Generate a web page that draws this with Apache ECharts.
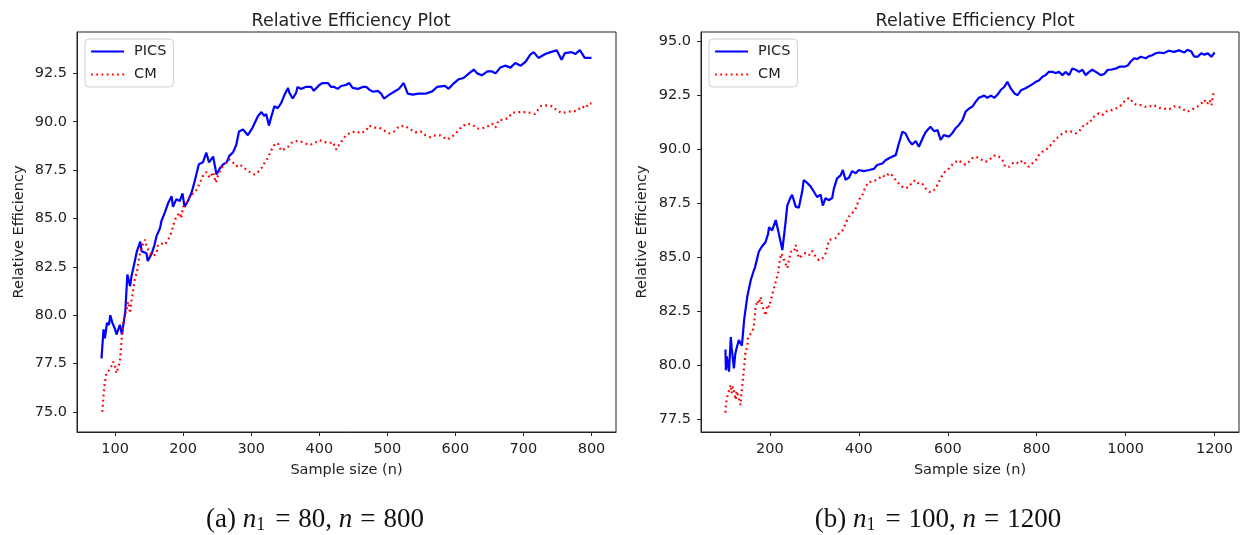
<!DOCTYPE html>
<html><head><meta charset="utf-8">
<script src="https://cdn.jsdelivr.net/npm/echarts@6/dist/echarts.min.js"></script>
<style>html,body{margin:0;padding:0;background:#fff}#c{width:1244px;height:535px}</style>
</head><body><div id="c"></div>
<script>
// ---------- DATA ----------
const titleText = "Relative Efficiency Plot";
const xName = "Sample size (n)";
const yName = "Relative Efficiency";
const seriesNames = ["PICS", "CM"];

// Panel (a): n1 = 80, n = 800
const xTicksA = [100, 200, 300, 400, 500, 600, 700, 800];
const yTicksA = [75.0, 77.5, 80.0, 82.5, 85.0, 87.5, 90.0, 92.5];
const picsA_n = [80,83,85,88,91,93,96,100,102,107,110,115,118,122,124,129,132,137,139,146,148,154,158,161,166,168,173,178,183,185,190,195,199,202,207,212,215,220,223,229,234,238,244,249,254,259,264,268,273,278,282,288,295,302,310,315,319,322,326,329,334,339,344,349,354,356,361,366,368,373,380,388,392,400,405,413,417,422,427,432,439,444,449,457,464,469,474,479,486,491,495,503,510,517,524,530,537,546,556,566,573,585,590,598,605,612,620,627,632,639,647,654,659,666,673,681,688,696,703,710,715,722,732,740,749,756,761,771,776,783,790,800];
const picsA_v = [77.76,79.27,78.8,79.6,79.5,80.0,79.6,79.27,79.0,79.5,79.0,80.2,82.1,81.5,82.0,82.8,83.3,83.8,83.3,83.2,82.8,83.2,83.65,84.1,84.5,84.86,85.3,85.8,86.15,85.6,86.0,85.9,86.3,85.6,85.9,86.3,86.67,87.36,87.8,87.9,88.4,87.9,88.2,87.27,87.6,87.8,87.9,88.25,88.4,88.8,89.5,89.6,89.3,89.7,90.3,90.5,90.3,90.4,89.8,90.2,90.8,90.7,90.97,91.4,91.75,91.5,91.2,91.5,91.8,91.7,91.8,91.8,91.6,91.9,92.0,92.0,91.8,91.8,91.7,91.85,91.9,92.0,91.75,91.7,91.8,91.8,91.65,91.55,91.6,91.45,91.2,91.4,91.55,91.7,92.0,91.45,91.4,91.45,91.45,91.57,91.8,91.85,91.7,92.0,92.2,92.26,92.5,92.7,92.5,92.4,92.6,92.6,92.5,92.8,92.9,92.8,93.04,92.9,93.1,93.47,93.6,93.3,93.5,93.6,93.7,93.2,93.55,93.6,93.5,93.7,93.3,93.3];
const cmA_n = [81,84,87,90,95,97,100,102,105,107,110,112,117,119,122,124,127,129,132,134,137,140,144,146,151,156,161,163,168,173,178,183,185,190,195,197,200,205,210,215,220,224,229,234,239,244,248,251,256,261,268,273,278,283,290,298,305,310,315,320,324,329,334,339,344,349,354,359,364,371,378,386,393,400,408,415,420,425,429,434,439,447,454,461,469,473,481,488,495,503,510,517,525,532,541,549,556,563,571,578,588,596,603,610,617,625,632,639,647,654,659,664,671,678,683,690,698,705,717,725,732,742,749,756,764,771,778,786,791,796,800];
const cmA_v = [75.0,76.3,77.0,77.1,77.4,77.6,77.35,77.0,77.35,77.6,78.9,79.7,80.3,80.7,80.1,80.7,81.4,81.9,82.2,82.7,83.3,83.6,83.9,83.6,83.2,83.05,83.2,83.65,83.7,83.65,83.9,84.3,84.6,85.1,85.3,85.0,85.6,85.8,86.15,86.3,86.5,86.8,87.2,87.4,87.1,87.4,86.85,87.2,87.6,87.8,88.05,87.9,87.7,87.8,87.6,87.4,87.27,87.4,87.6,87.9,88.1,88.5,88.8,88.9,88.5,88.6,88.7,88.9,89.0,89.0,88.9,88.8,88.9,89.05,88.95,88.9,88.95,88.56,88.8,89.05,89.3,89.45,89.5,89.4,89.55,89.8,89.7,89.7,89.55,89.4,89.5,89.75,89.8,89.65,89.45,89.5,89.3,89.2,89.3,89.3,89.08,89.25,89.5,89.77,89.9,89.85,89.65,89.65,89.75,89.9,89.7,90.1,90.1,90.2,90.45,90.5,90.5,90.5,90.4,90.8,90.85,90.8,90.6,90.45,90.5,90.55,90.55,90.8,90.7,90.94,90.95];

// Panel (b): n1 = 100, n = 1200
const xTicksB = [200, 400, 600, 800, 1000, 1200];
const yTicksB = [77.5, 80.0, 82.5, 85.0, 87.5, 90.0, 92.5, 95.0];
const picsB_n = [100,101,103,108,112,114,119,122,124,130,137,142,149,151,157,164,166,175,182,190,196,198,205,213,220,228,235,239,247,250,258,265,273,276,284,291,299,306,314,319,325,332,340,344,351,359,364,370,378,385,393,400,411,423,434,441,453,460,472,483,490,498,505,513,520,528,535,543,550,561,569,577,584,591,603,610,618,625,633,640,648,655,663,670,682,689,697,705,712,719,727,734,742,750,757,765,776,788,798,805,813,820,827,835,843,850,858,865,873,880,888,895,903,910,918,925,933,944,952,960,967,979,986,997,1005,1011,1019,1026,1034,1045,1053,1060,1067,1075,1086,1097,1109,1120,1132,1139,1147,1154,1162,1170,1177,1185,1193,1200];
const picsB_v = [80.73,79.77,80.4,79.7,81.3,80.8,79.85,80.5,80.7,81.16,80.9,82.1,83.17,83.2,83.95,84.4,84.5,85.26,85.5,85.7,86.1,86.4,86.25,86.73,86.1,85.34,86.6,87.4,87.8,87.9,87.35,87.3,88.1,88.58,88.45,88.3,88.04,87.8,87.9,87.4,87.75,87.65,87.75,88.2,88.66,88.8,89.05,88.6,88.7,89.0,88.9,89.05,89.0,89.05,89.1,89.28,89.35,89.5,89.64,89.74,90.28,90.83,90.75,90.4,90.23,90.4,90.13,90.5,90.8,91.06,90.85,90.9,90.44,90.67,90.6,90.75,91.0,91.14,91.36,91.75,91.9,91.98,92.22,92.4,92.5,92.4,92.5,92.4,92.55,92.76,92.9,93.14,92.82,92.6,92.52,92.75,92.85,93.0,93.14,93.2,93.38,93.45,93.6,93.6,93.55,93.6,93.45,93.6,93.45,93.76,93.7,93.6,93.7,93.45,93.6,93.7,93.6,93.45,93.5,93.7,93.7,93.76,93.84,93.84,93.9,94.07,94.23,94.2,94.3,94.23,94.33,94.37,94.46,94.5,94.47,94.58,94.53,94.6,94.5,94.62,94.56,94.32,94.3,94.46,94.4,94.46,94.3,94.5];
const cmB_n = [100,101,106,112,114,117,123,125,128,134,136,142,145,149,151,160,164,168,172,175,179,182,190,194,198,205,209,213,219,222,226,232,235,239,243,247,254,258,265,273,280,288,295,303,310,318,322,325,333,340,348,355,364,370,378,385,393,400,408,415,423,430,438,445,453,460,468,475,483,490,498,505,513,520,528,535,543,550,558,565,573,580,588,595,603,610,618,625,633,640,648,655,663,670,678,685,693,700,708,715,723,729,738,745,753,760,768,775,782,790,798,805,813,820,828,835,843,850,858,865,873,880,888,895,903,910,918,925,933,940,948,955,963,970,978,986,993,1000,1008,1011,1019,1026,1034,1045,1053,1060,1071,1079,1086,1094,1102,1109,1117,1124,1132,1139,1147,1154,1162,1170,1177,1183,1189,1193,1196,1199];
const cmB_v = [77.8,78.2,78.7,79.08,78.7,79.0,78.4,78.8,78.6,78.15,78.7,79.9,80.55,80.9,81.3,81.55,81.8,82.7,83.0,82.85,83.17,82.8,82.3,82.8,82.7,83.25,83.55,83.87,84.33,84.87,85.18,84.87,84.95,84.5,84.87,85.26,85.26,85.57,84.96,85.1,85.2,85.1,85.3,85.03,84.87,84.95,84.87,85.18,85.8,85.85,85.9,86.1,86.27,86.57,86.9,87.05,87.27,87.66,87.9,88.27,88.5,88.5,88.58,88.65,88.8,88.73,88.9,88.8,88.58,88.43,88.27,88.2,88.27,88.5,88.57,88.4,88.4,88.2,88.04,88.04,88.2,88.5,88.82,89.0,89.13,89.3,89.43,89.5,89.34,89.3,89.43,89.6,89.67,89.6,89.5,89.43,89.5,89.67,89.74,89.67,89.5,89.2,89.2,89.35,89.43,89.34,89.5,89.34,89.2,89.35,89.5,89.74,89.9,89.97,90.12,90.29,90.5,90.6,90.75,90.83,90.83,90.83,90.75,90.83,91.06,91.2,91.2,91.45,91.6,91.68,91.6,91.75,91.83,91.83,91.9,91.98,92.13,92.3,92.4,92.37,92.13,92.06,92.06,91.98,91.98,92.06,92.0,91.9,91.9,91.86,91.9,92.0,91.98,91.95,91.83,91.75,91.83,91.9,92.0,92.13,92.3,92.1,92.3,92.05,92.45,92.76];

// ---------- CHART ----------
const zip = (a, b) => a.map((x, i) => [x, b[i]]);
const FONT = "DejaVu Sans";
const TXT = "#222";
const chart = echarts.init(document.getElementById("c"), null, {renderer: "canvas"});

function xAxis(grid, min, max, ticks) {
  return {
    type: "value", gridIndex: grid, min: min, max: max,
    name: xName, nameLocation: "middle", nameGap: 31,
    nameTextStyle: {fontFamily: FONT, fontSize: 14.5, color: TXT},
    axisLine: {show: true, onZero: false, lineStyle: {color: TXT, width: 1}},
    axisTick: {show: true, length: 4, customValues: ticks, lineStyle: {color: TXT}},
    axisLabel: {customValues: ticks, fontFamily: FONT, fontSize: 14.5, color: TXT, margin: 10,
      formatter: v => String(v)},
    splitLine: {show: false}
  };
}
function yAxis(grid, min, max, ticks, gap) {
  return {
    type: "value", gridIndex: grid, min: min, max: max,
    name: yName, nameLocation: "middle", nameGap: gap, nameRotate: 90,
    nameTextStyle: {fontFamily: FONT, fontSize: 14.5, color: TXT},
    axisLine: {show: true, onZero: false, lineStyle: {color: TXT, width: 1}},
    axisTick: {show: true, length: 4, customValues: ticks, lineStyle: {color: TXT}},
    axisLabel: {customValues: ticks, fontFamily: FONT, fontSize: 14.5, color: TXT, margin: 10,
      formatter: v => v.toFixed(1)},
    splitLine: {show: false}
  };
}
function legend(left) {
  return {
    orient: "vertical", left: left, top: 39, data: seriesNames,
    itemWidth: 33, itemHeight: 14, itemGap: 8,
    padding: [5, 7, 5, 5],
    borderColor: "#d0d0d0", borderWidth: 1, borderRadius: 4,
    backgroundColor: "rgba(255,255,255,0.8)",
    itemStyle: {opacity: 0},
    lineStyle: {width: 2.2},
    textStyle: {fontFamily: FONT, fontSize: 14.5, color: TXT, padding: [0, 0, 0, 5]}
  };
}
function lineSeries(name, data, xi, color, dotted) {
  return {
    type: "line", name: name, data: data, xAxisIndex: xi, yAxisIndex: xi,
    symbol: "none", showSymbol: false, animation: false,
    itemStyle: {color: color},
    lineStyle: {color: color, width: 2.2, type: dotted ? [1.8, 3.4] : "solid"}
  };
}

const capRich = {
  r: {fontFamily: "Liberation Serif", fontSize: 27, fill: "#111"},
  i: {fontFamily: "Liberation Serif", fontSize: 27, fontStyle: "italic", fill: "#111"},
  s: {fontFamily: "Liberation Serif", fontSize: 18, fill: "#111", padding: [11, 2, 0, 0]},
  e: {fontFamily: "Liberation Serif", fontSize: 27, fill: "#111", padding: [0, 8, 0, 8]}
};

chart.setOption({
  backgroundColor: "#fff",
  animation: false,
  title: [
    {text: titleText, left: 346, top: 7, textAlign: "center",
     textStyle: {fontFamily: FONT, fontSize: 17.5, fontWeight: "normal", color: TXT}},
    {text: titleText, left: 970, top: 7, textAlign: "center",
     textStyle: {fontFamily: FONT, fontSize: 17.5, fontWeight: "normal", color: TXT}}
  ],
  grid: [
    {left: 77, top: 32, width: 539, height: 400, show: true, borderColor: TXT, borderWidth: 1, backgroundColor: "transparent"},
    {left: 701, top: 32, width: 538, height: 400, show: true, borderColor: TXT, borderWidth: 1, backgroundColor: "transparent"}
  ],
  xAxis: [xAxis(0, 44, 836, xTicksA), xAxis(1, 45, 1255, xTicksB)],
  yAxis: [yAxis(0, 73.96, 94.64, yTicksA, 50), yAxis(1, 76.9, 95.45, yTicksB, 51)],
  legend: [legend(85), legend(709)],
  series: [
    lineSeries(seriesNames[0], zip(picsA_n, picsA_v), 0, "#0000ff", false),
    lineSeries(seriesNames[1], zip(cmA_n, cmA_v), 0, "#ff0000", true),
    lineSeries(seriesNames[0], zip(picsB_n, picsB_v), 1, "#0000ff", false),
    lineSeries(seriesNames[1], zip(cmB_n, cmB_v), 1, "#ff0000", true)
  ],
  graphic: [
    {type: "text", x: 315, y: 520, style: {text: "{r|(a) }{i|n}{s|1}{e|=}{r|80, }{i|n}{e|=}{r|800}", rich: capRich, align: "center", verticalAlign: "middle"}},
    {type: "text", x: 938, y: 520, style: {text: "{r|(b) }{i|n}{s|1}{e|=}{r|100, }{i|n}{e|=}{r|1200}", rich: capRich, align: "center", verticalAlign: "middle"}}
  ]
});
</script></body></html>
